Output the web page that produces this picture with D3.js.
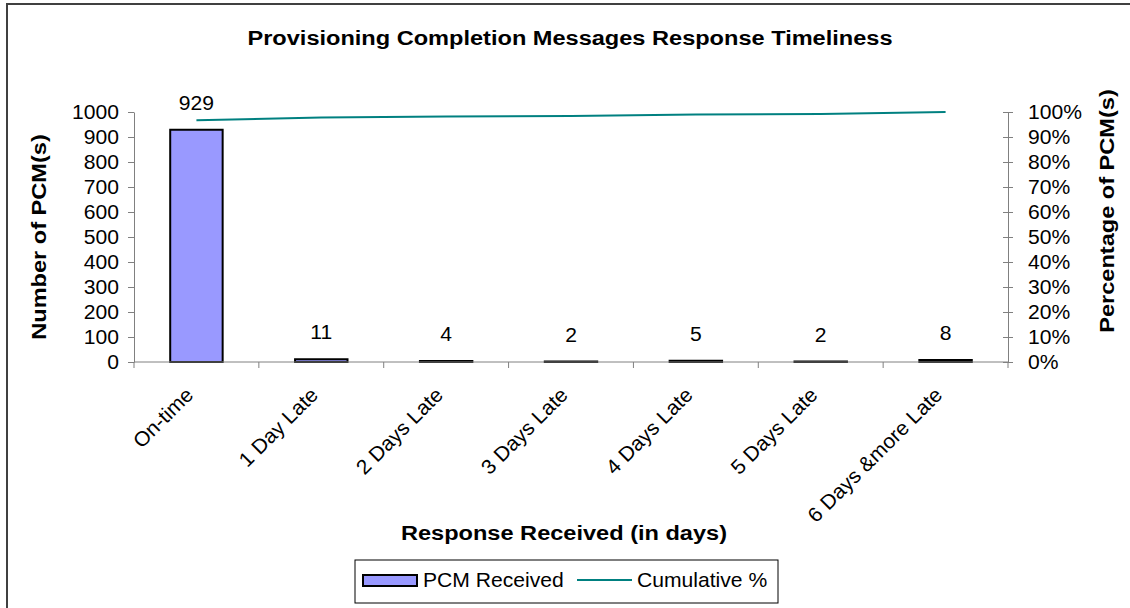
<!DOCTYPE html>
<html>
<head>
<meta charset="utf-8">
<script src="https://cdn.jsdelivr.net/npm/d3@7"></script>
<style>
  body { margin: 0; background: #fff; }
  svg { display: block; }
  text { font-family: "Liberation Sans", Arial, sans-serif; fill: #000; }
</style>
</head>
<body>
<div id="chart"></div>
<script>
// data
const categories = ["On-time", "1 Day Late", "2 Days Late", "3 Days Late", "4 Days Late", "5 Days Late", "6 Days &more Late"];
const pcmReceived = [929, 11, 4, 2, 5, 2, 8];
const cumulativePct = [96.7, 97.8, 98.2, 98.4, 99.0, 99.2, 100];
const countTicks = [0, 100, 200, 300, 400, 500, 600, 700, 800, 900, 1000];
const pctTicks = [0, 10, 20, 30, 40, 50, 60, 70, 80, 90, 100];

const width = 1130;
const height = 608;
const SX_BOLD = 1.15; // bold titles are drawn wide in the original
const SX = 1.03;
const FS = 20.5;
const axisColor = "#808080";
const lineColor = "#008080";
const barColor = "#9999FF";

const plot = { left: 134, right: 1008, top: 112, bottom: 362 };

const svg = d3.select("#chart")
    .append("svg")
    .attr("width", width)
    .attr("height", height);

svg.append("rect")
    .attr("width", width).attr("height", height)
    .attr("fill", "#fff");

// outer frame (only top and left edges fall inside the picture)
svg.append("rect")
    .attr("x", 7).attr("y", 4)
    .attr("width", width + 20).attr("height", height + 20)
    .attr("fill", "none")
    .attr("stroke", "#404040")
    .attr("stroke-width", 2);

// helper for stretched text
function addText(g, x, y, str, size, opts = {}) {
    const sx = opts.bold ? SX_BOLD : SX;
    return g.append("text")
        .attr("transform", `translate(${x},${y}) rotate(${opts.rotate || 0}) scale(${sx},1)`)
        .attr("text-anchor", opts.anchor || "start")
        .attr("dy", opts.dy || 0)
        .style("font-size", size + "px")
        .style("font-weight", opts.bold ? "bold" : "normal")
        .text(str);
}

// scales
const x = d3.scaleBand()
    .domain(categories)
    .range([plot.left, plot.right])
    .padding(0);

const y = d3.scaleLinear()
    .domain([0, 1000])
    .range([plot.bottom, plot.top]);

const yPct = d3.scaleLinear()
    .domain([0, 100])
    .range([plot.bottom, plot.top]);

const barW = x.bandwidth() * 0.42;

// bars
svg.selectAll("rect.bar")
    .data(pcmReceived)
    .enter()
    .append("rect")
    .attr("class", "bar")
    .attr("x", (d, i) => x(categories[i]) + x.bandwidth() / 2 - barW / 2)
    .attr("y", d => y(d))
    .attr("width", barW)
    .attr("height", d => y(0) - y(d))
    .attr("fill", barColor)
    .attr("stroke", "#000")
    .attr("stroke-width", 2);

// value labels
pcmReceived.forEach((d, i) => {
    addText(svg, x(categories[i]) + x.bandwidth() / 2, y(d) - 20, d, FS, { anchor: "middle" });
});

// left axis
const leftAxis = svg.append("g")
    .attr("transform", `translate(${plot.left},0)`)
    .call(d3.axisLeft(y).tickValues(countTicks).tickSize(6).tickSizeOuter(0).tickFormat(d => d));
leftAxis.select(".domain").attr("stroke", axisColor);
leftAxis.selectAll(".tick line").attr("stroke", axisColor);
leftAxis.selectAll(".tick text")
    .attr("x", null)
    .attr("dy", "0.33em")
    .attr("transform", `translate(-15,0) scale(${SX},1)`)
    .style("font-size", FS + "px")
    .style("font-family", "'Liberation Sans', Arial, sans-serif")
    .attr("fill", "#000");

// right axis
const rightAxis = svg.append("g")
    .attr("transform", `translate(${plot.right},0)`)
    .call(d3.axisRight(yPct).tickValues(pctTicks).tickSize(5).tickSizeOuter(0).tickFormat(d => d + "%"));
rightAxis.select(".domain").attr("stroke", axisColor);
rightAxis.selectAll(".tick line").attr("stroke", axisColor).attr("x1", -5).attr("x2", 5);
rightAxis.selectAll(".tick text")
    .attr("x", null)
    .attr("dy", "0.33em")
    .attr("transform", `translate(20,0) scale(${SX},1)`)
    .style("font-size", FS + "px")
    .style("font-family", "'Liberation Sans', Arial, sans-serif")
    .attr("fill", "#000");

// x axis line and boundary ticks
svg.append("line")
    .attr("x1", plot.left).attr("x2", plot.right)
    .attr("y1", plot.bottom).attr("y2", plot.bottom)
    .attr("stroke", axisColor);

const bounds = categories.map(c => x(c)).concat([plot.right]);
svg.selectAll("line.xtick")
    .data(bounds)
    .enter()
    .append("line")
    .attr("class", "xtick")
    .attr("x1", d => d).attr("x2", d => d)
    .attr("y1", plot.bottom).attr("y2", plot.bottom + 6)
    .attr("stroke", axisColor);

// rotated category labels
categories.forEach(c => {
    addText(svg, x(c) + x.bandwidth() / 2 - 7, 391, c, FS, { anchor: "end", rotate: -45, dy: "0.35em" });
});

// cumulative line
const line = d3.line()
    .x((d, i) => x(categories[i]) + x.bandwidth() / 2)
    .y(d => yPct(d));

svg.append("path")
    .datum(cumulativePct)
    .attr("d", line)
    .attr("fill", "none")
    .attr("stroke", lineColor)
    .attr("stroke-width", 2);

// titles
addText(svg, 570, 45, "Provisioning Completion Messages Response Timeliness", FS, { anchor: "middle", bold: true });
addText(svg, 46, 237, "Number of PCM(s)", FS, { anchor: "middle", bold: true, rotate: -90 });
addText(svg, 1114, 211, "Percentage of PCM(s)", FS, { anchor: "middle", bold: true, rotate: -90 });
addText(svg, 564, 540, "Response Received (in days)", FS, { anchor: "middle", bold: true });

// legend
const legend = svg.append("g");
legend.append("rect")
    .attr("x", 355).attr("y", 560)
    .attr("width", 423).attr("height", 43)
    .attr("fill", "#fff")
    .attr("stroke", "#000")
    .attr("stroke-width", 1);
legend.append("rect")
    .attr("x", 363).attr("y", 575)
    .attr("width", 54).attr("height", 11)
    .attr("fill", barColor)
    .attr("stroke", "#000")
    .attr("stroke-width", 2);
addText(legend, 423, 587, "PCM Received", FS);
legend.append("line")
    .attr("x1", 577).attr("x2", 632)
    .attr("y1", 580).attr("y2", 580)
    .attr("stroke", lineColor)
    .attr("stroke-width", 2);
addText(legend, 637, 587, "Cumulative %", FS);
</script>
</body>
</html>
